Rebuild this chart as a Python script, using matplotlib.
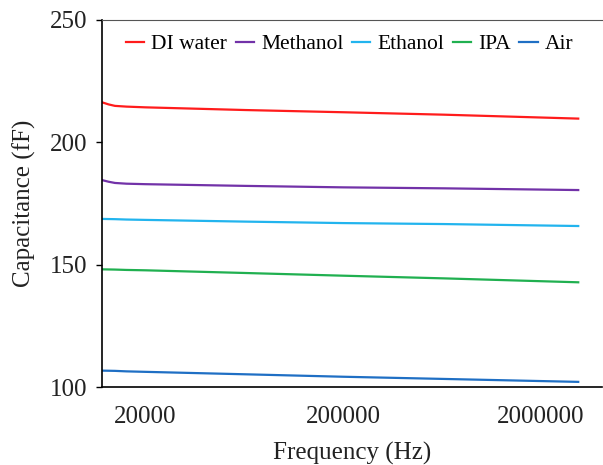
import matplotlib.pyplot as plt

plt.rcParams['font.family'] = ['Liberation Serif', 'DejaVu Serif']

# Frequency points (Hz)
freq = [12000, 13000, 14000, 16000, 20000, 64000, 200000, 650000, 3100000]

# Capacitance (fF) for each liquid
di_water = [216.4, 215.5, 214.9, 214.6, 214.3, 213.2, 212.3, 211.3, 209.7]
methanol = [184.6, 183.9, 183.4, 183.1, 182.9, 182.2, 181.6, 181.2, 180.5]
ethanol = [168.7, 168.65, 168.6, 168.45, 168.3, 167.6, 167.0, 166.6, 165.8]
ipa = [148.1, 148.05, 148.0, 147.85, 147.7, 146.6, 145.5, 144.4, 142.8]
air = [106.7, 106.65, 106.6, 106.4, 106.2, 105.2, 104.2, 103.3, 102.1]

labels = ['DI water', 'Methanol', 'Ethanol', 'IPA', 'Air']
colors = ['#ff1c1c', '#7232a8', '#22b4ee', '#20b050', '#1f6fc4']
xticks = [20000, 200000, 2000000]

fig = plt.figure(figsize=(6.03, 4.65), dpi=100)
ax = fig.add_axes([0.1687, 0.1677, 0.8293, 0.7893])

for y, lab, col in zip([di_water, methanol, ethanol, ipa, air], labels, colors):
    ax.plot(freq, y, color=col, linewidth=1.6, label=lab)

ax.set_xscale('log')
ax.set_xlim(12000, 4.08e6)
ax.set_ylim(100, 250)
ax.set_xticks(xticks)
ax.set_xticklabels([str(t) for t in xticks])
ax.minorticks_off()
ax.set_yticks([100, 150, 200, 250])

ax.tick_params(axis='x', length=0, pad=14, labelsize=18, labelcolor='#222222')
ax.tick_params(axis='y', direction='out', length=4.5, width=1, pad=6, labelsize=18, labelcolor='#222222')

ax.spines['right'].set_visible(False)
ax.spines['top'].set_color('#555555')
ax.spines['left'].set_linewidth(1.2)
ax.spines['bottom'].set_linewidth(1.2)

ax.set_xlabel('Frequency (Hz)', fontsize=18, color='#222222', labelpad=10)
ax.set_ylabel('Capacitance (fF)', fontsize=18, color='#222222', labelpad=10)

ax.legend(loc='upper center', bbox_to_anchor=(0.496, 1.0), ncol=5, frameon=False,
          fontsize=15.5, handlelength=0.85, handletextpad=0.35, columnspacing=0.38,
          borderaxespad=0.25)

plt.savefig('out.png', dpi=100)
